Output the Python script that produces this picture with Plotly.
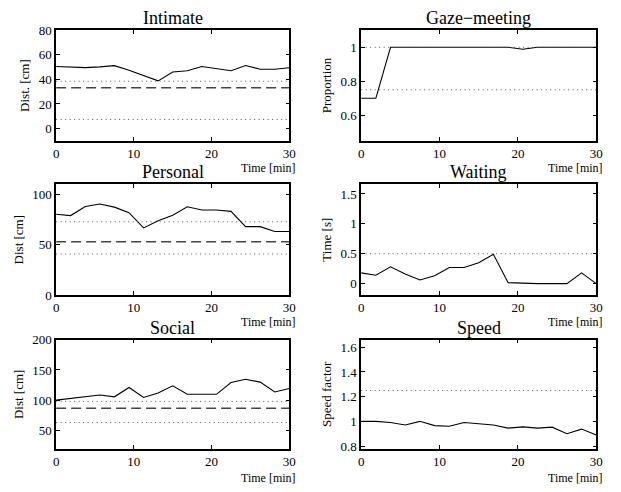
import plotly.graph_objects as go

# ---------------- data ----------------
times = [0, 1.875, 3.75, 5.625, 7.5, 9.375, 11.25, 13.125, 15, 16.875,
         18.75, 20.625, 22.5, 24.375, 26.25, 28.125, 30]

intimate = [50.5, 50.3, 49.6, 50.2, 51.2, 47.5, 43.0, 38.8, 46.0, 47.0,
            50.5, 48.8, 47.0, 51.3, 48.3, 48.3, 49.5]
gaze = [0.70, 0.70, 1.0, 1.0, 1.0, 1.0, 1.0, 1.0, 1.0, 1.0,
        1.0, 0.988, 1.0, 1.0, 1.0, 1.0, 1.0]
personal = [80.3, 79.0, 88.0, 90.5, 87.4, 81.9, 66.7, 73.8, 79.3, 87.7,
            84.5, 84.5, 83.2, 68.0, 68.0, 63.1, 63.1]
waiting = [0.18, 0.14, 0.28, 0.16, 0.06, 0.13, 0.27, 0.27, 0.35, 0.49,
           0.016, 0.005, 0.0, 0.0, 0.0, 0.18, 0.0]
social = [100.5, 103.7, 106.4, 109.0, 105.9, 121.3, 104.8, 112.3, 124.0, 110.0,
          110.0, 110.0, 129.3, 134.7, 130.0, 113.9, 119.7]
speed = [1.0, 1.0, 0.99, 0.97, 1.0, 0.965, 0.96, 0.99, 0.98, 0.97,
         0.945, 0.955, 0.945, 0.953, 0.90, 0.937, 0.89]

titles = ["Intimate", "Gaze\u2212meeting", "Personal", "Waiting", "Social", "Speed"]
ylabels = ["Dist. [cm]", "Proportion", "Dist [cm]", "Time [s]", "Dist [cm]", "Speed factor"]
xlabel = "Time [min]"

# reference lines (dotted bounds, dashed mean)
dotted_refs = [[38.5, 7.4], [1.0, 0.75], [72.8, 40.8], [0.5], [98.4, 63.7], [1.25]]
dashed_refs = [[33.2], [], [53.0], [], [87.2], []]

yranges = [[-10, 80], [0.45, 1.1], [0, 110], [-0.19, 1.66], [20, 200], [0.775, 1.663]]
ytickvals = [[0, 20, 40, 60, 80], [0.6, 0.8, 1.0], [0, 50, 100], [0, 0.5, 1, 1.5],
             [50, 100, 150, 200], [0.8, 1.0, 1.2, 1.4, 1.6]]
yticktext = [["0", "20", "40", "60", "80"], ["0.6", "0.8", "1"], ["0", "50", "100"],
             ["0", "0.5", "1", "1.5"], ["50", "100", "150", "200"],
             ["0.8", "1", "1.2", "1.4", "1.6"]]
xtickvals = [0, 10, 20, 30]

series = [intimate, gaze, personal, waiting, social, speed]

# ---------------- layout ----------------
W, H = 621, 492
FONT = "Liberation Serif"
xdoms = [[54 / W, 291 / W], [364 / W, 603 / W]]
ydoms = [[1 - 138 / H, 1 - 24 / H], [1 - 297 / H, 1 - 183 / H], [1 - 456 / H, 1 - 343 / H]]
xlab_shift = [-18, -18, -20]

fig = go.Figure()
layout = dict(width=W, height=H, margin=dict(l=0, r=0, t=0, b=0),
              paper_bgcolor="white", plot_bgcolor="white", showlegend=False,
              font=dict(family=FONT, size=12, color="black"))
annotations = []

for i in range(6):
    row, col = divmod(i, 2)
    n = i + 1
    xa = "x" if n == 1 else f"x{n}"
    ya = "y" if n == 1 else f"y{n}"
    fig.add_trace(go.Scatter(x=times, y=series[i], mode="lines",
                             line=dict(color="black", width=1.1),
                             xaxis=xa, yaxis=ya, hoverinfo="skip"))
    for v in dotted_refs[i]:
        fig.add_trace(go.Scatter(x=[0, 30], y=[v, v], mode="lines",
                                 line=dict(color="#555555", width=1, dash="1px,3.5px"),
                                 xaxis=xa, yaxis=ya, hoverinfo="skip"))
    for v in dashed_refs[i]:
        fig.add_trace(go.Scatter(x=[0, 30], y=[v, v], mode="lines",
                                 line=dict(color="#444444", width=1.4, dash="10px,5px"),
                                 xaxis=xa, yaxis=ya, hoverinfo="skip"))
    axcommon = dict(showline=True, linecolor="black", linewidth=1.5, mirror="allticks",
                    ticks="inside", ticklen=4, tickcolor="black", tickwidth=1,
                    showgrid=False, zeroline=False,
                    tickfont=dict(family=FONT, size=13, color="black"))
    layout["xaxis" if n == 1 else f"xaxis{n}"] = dict(
        axcommon, domain=xdoms[col], anchor=ya, range=[0, 30],
        tickvals=xtickvals, ticktext=[str(v) for v in xtickvals])
    layout["yaxis" if n == 1 else f"yaxis{n}"] = dict(
        axcommon, domain=ydoms[row], anchor=xa, range=yranges[i],
        tickvals=ytickvals[i], ticktext=yticktext[i],
        title=dict(text=ylabels[i], font=dict(family=FONT, size=13, color="black"),
                   standoff=6))
    # title
    annotations.append(dict(text=titles[i], xref="paper", yref="paper",
                            x=(xdoms[col][0] + xdoms[col][1]) / 2, y=ydoms[row][1],
                            xanchor="center", yanchor="bottom", yshift=0, showarrow=False,
                            font=dict(family=FONT, size=18, color="black")))
    # x label at lower right
    annotations.append(dict(text=xlabel, xref="paper", yref="paper",
                            x=xdoms[col][1], y=ydoms[row][0],
                            xanchor="right", yanchor="top", yshift=xlab_shift[row], xshift=9,
                            showarrow=False,
                            font=dict(family=FONT, size=12, color="black")))

layout["annotations"] = annotations
fig.update_layout(**layout)
fig.write_html("out.html")
